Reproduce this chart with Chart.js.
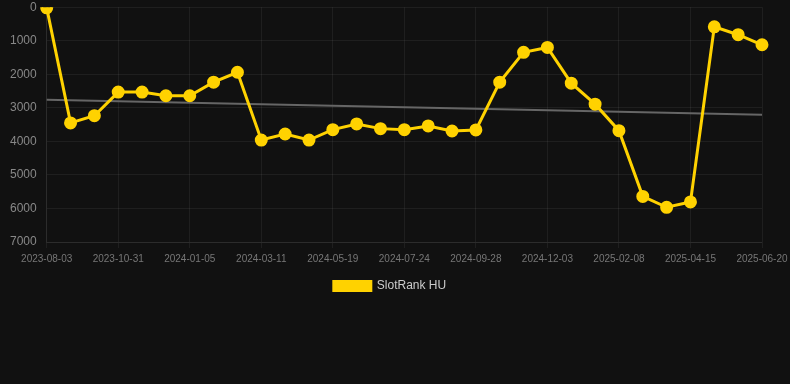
<!DOCTYPE html>
<html><head><meta charset="utf-8">
<script src="https://cdn.jsdelivr.net/npm/chart.js@4/dist/chart.umd.min.js"></script>
<style>
html,body{margin:0;padding:0;background:#111111;overflow:hidden;}
#wrap{position:relative;width:790px;height:312px;margin-top:-10px;}
</style></head>
<body>
<div id="wrap"><canvas id="c"></canvas></div>
<script>
const dates = ["2023-08-03","2023-09-02","2023-10-01","2023-10-31","2023-11-22","2023-12-14","2024-01-05","2024-01-27","2024-02-18","2024-03-11","2024-04-03","2024-04-26","2024-05-19","2024-06-10","2024-07-02","2024-07-24","2024-08-15","2024-09-06","2024-09-28","2024-10-20","2024-11-11","2024-12-03","2024-12-25","2025-01-17","2025-02-08","2025-03-02","2025-03-24","2025-04-15","2025-05-07","2025-05-29","2025-06-20"];
const rankHU = [20,3450,3235,2530,2530,2640,2640,2235,1940,3960,3780,3960,3650,3480,3620,3650,3540,3690,3660,2235,1345,1200,2265,2890,3680,5640,5965,5805,585,820,1120];
const trendStart = 2760;
const trendEnd = 3210;
const yTicks = [0,1000,2000,3000,4000,5000,6000,7000];
const seriesLabel = "SlotRank HU";

const trend = dates.map((d,i)=> i===0 ? trendStart : (i===dates.length-1 ? trendEnd : null));

new Chart(document.getElementById('c'), {
  type: 'line',
  data: {
    labels: dates,
    datasets: [
      {
        label: seriesLabel,
        data: rankHU,
        borderColor: '#FFD200',
        backgroundColor: '#FFD200',
        borderWidth: 3,
        pointRadius: 5,
        pointHoverRadius: 5,
        pointBackgroundColor: '#FFD200',
        pointBorderColor: '#FFD200',
        tension: 0,
        order: 1
      },
      {
        label: 'trend',
        data: trend,
        spanGaps: true,
        borderColor: '#666666',
        borderWidth: 2,
        pointRadius: 0,
        tension: 0,
        order: 2
      }
    ]
  },
  options: {
    responsive: true,
    maintainAspectRatio: false,
    animation: false,
    layout: { padding: { left: 0, right: 10, top: 0, bottom: 0 } },
    plugins: {
      legend: {
        position: 'bottom',
        labels: {
          color: '#cccccc',
          font: { family: 'Liberation Sans, Arial, sans-serif', size: 12 },
          boxWidth: 37,
          boxHeight: 9,
          filter: (item) => item.text !== 'trend'
        }
      },
      tooltip: { enabled: false }
    },
    scales: {
      x: {
        offset: false,
        afterFit: (s) => { s.paddingRight = 28; },
        grid: { color: 'rgba(255,255,255,0.06)', drawTicks: true, tickLength: 6 },
        border: { color: 'rgba(255,255,255,0.06)' },
        ticks: {
          color: '#777777',
          padding: 5,
          font: { family: 'Liberation Sans, Arial, sans-serif', size: 10 },
          maxRotation: 0,
          autoSkip: true,
          callback: function(v, i) { return i % 3 === 0 ? dates[i] : null; }
        }
      },
      y: {
        reverse: true,
        min: 0,
        max: 7000,
        afterBuildTicks: (ax) => { ax.ticks = yTicks.map(v => ({ value: v })); },
        grid: { color: 'rgba(255,255,255,0.06)', drawTicks: false },
        border: { color: 'rgba(255,255,255,0.06)' },
        ticks: {
          color: '#888888',
          padding: 10,
          font: { family: 'Liberation Sans, Arial, sans-serif', size: 12 },
          callback: (v) => String(v)
        }
      }
    }
  }
});
</script>
</body></html>
